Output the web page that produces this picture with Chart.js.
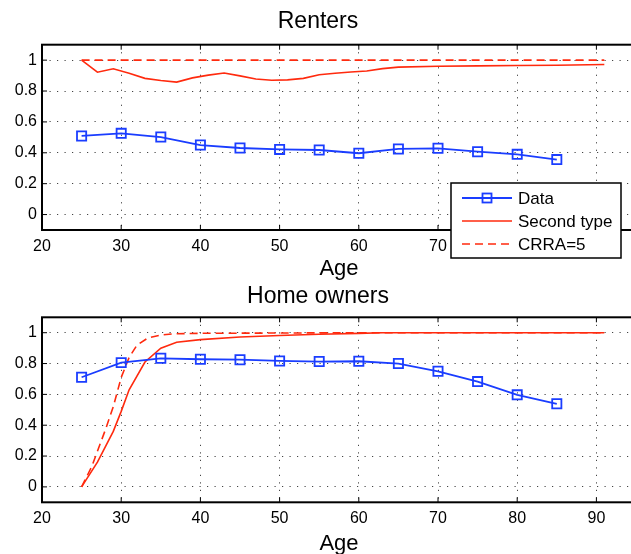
<!DOCTYPE html>
<html>
<head>
<meta charset="utf-8">
<script src="https://cdn.jsdelivr.net/npm/chart.js@4.4.1/dist/chart.umd.min.js"></script>
<style>
  html, body { margin: 0; padding: 0; background: #fff; overflow: hidden; width: 631px; height: 554px; }
  .panel { position: absolute; left: 0; }
</style>
</head>
<body>
<div class="panel" style="top:0"><canvas id="renters" width="660" height="290"></canvas></div>
<div class="panel" style="top:277px"><canvas id="owners" width="660" height="290"></canvas></div>
<script>
// axis ticks
const xTicks = [20, 30, 40, 50, 60, 70, 80, 90];
const yTicks = [0, 0.2, 0.4, 0.6, 0.8, 1];

// renters
const dataAges = [25, 30, 35, 40, 45, 50, 55, 60, 65, 70, 75, 80, 85];
const renterData = [0.509, 0.526, 0.502, 0.450, 0.431, 0.422, 0.418, 0.397, 0.425, 0.429, 0.407, 0.390, 0.356];
const renterSecondAges = [25, 27, 29, 31, 33, 35, 37, 39, 41, 43, 45, 47, 49, 51, 53, 55, 57, 59, 61, 63, 65, 70, 75, 80, 85, 91];
const renterSecond = [1.0, 0.922, 0.944, 0.915, 0.882, 0.868, 0.858, 0.885, 0.903, 0.917, 0.898, 0.878, 0.870, 0.872, 0.882, 0.905, 0.915, 0.923, 0.930, 0.945, 0.955, 0.960, 0.963, 0.965, 0.967, 0.972];
const renterCrraAges = [25, 91];
const renterCrra = [1.0, 1.0];

// home owners
const ownerData = [0.711, 0.806, 0.834, 0.828, 0.825, 0.817, 0.813, 0.815, 0.800, 0.750, 0.683, 0.597, 0.539];
const ownerSecondAges = [25, 27, 29, 30, 31, 33, 35, 37, 40, 45, 50, 55, 60, 63, 70, 80, 91];
const ownerSecond = [0.0, 0.160, 0.360, 0.490, 0.630, 0.810, 0.900, 0.938, 0.955, 0.972, 0.982, 0.990, 0.996, 1.0, 1.0, 1.0, 1.0];
const ownerCrraAges = [25, 26.3, 28, 29, 30, 31, 32, 33.4, 35, 36.6, 40, 50, 60, 91];
const ownerCrra = [0.0, 0.134, 0.370, 0.520, 0.710, 0.840, 0.920, 0.967, 0.985, 0.993, 0.996, 0.998, 1.0, 1.0];

const BLUE = "#1a3dff";
const RED = "#ff2a0e";
const FONT = "'Liberation Sans', Arial, Helvetica, sans-serif";

function pts(xs, ys) {
  return xs.map((x, i) => ({ x: x, y: ys[i] }));
}

// box around the plot area plus inward tick marks
const frame = {
  id: "frame",
  afterDatasetsDraw(chart) {
    const { ctx, chartArea: a, scales } = chart;
    ctx.save();
    ctx.strokeStyle = "#000";
    ctx.lineWidth = 1;
    ctx.beginPath();
    xTicks.forEach(v => {
      const px = scales.x.getPixelForValue(v);
      ctx.moveTo(px, a.bottom); ctx.lineTo(px, a.bottom - 5);
      ctx.moveTo(px, a.top); ctx.lineTo(px, a.top + 5);
    });
    yTicks.forEach(v => {
      const py = scales.y.getPixelForValue(v);
      ctx.moveTo(a.left, py); ctx.lineTo(a.left + 5, py);
    });
    ctx.stroke();
    ctx.lineWidth = 2;
    ctx.strokeRect(a.left, a.top, a.right - a.left, a.bottom - a.top);
    ctx.restore();
  }
};

// matlab style legend box inside the axes
const boxLegend = {
  id: "boxLegend",
  afterDraw(chart, args, opts) {
    if (!opts.show) return;
    const ctx = chart.ctx;
    const x = 451, y = 183, w = 170, h = 75;
    ctx.save();
    ctx.fillStyle = "#fff";
    ctx.fillRect(x, y, w, h);
    ctx.strokeStyle = "#000";
    ctx.lineWidth = 1.5;
    ctx.strokeRect(x, y, w, h);
    ctx.font = "17px " + FONT;
    ctx.textBaseline = "middle";
    chart.data.datasets.forEach((ds, i) => {
      const cy = y + 15 + i * 23;
      ctx.strokeStyle = ds.borderColor;
      ctx.lineWidth = ds.borderWidth;
      ctx.setLineDash(ds.borderDash || []);
      ctx.beginPath();
      ctx.moveTo(x + 11, cy);
      ctx.lineTo(x + 61, cy);
      ctx.stroke();
      ctx.setLineDash([]);
      if (ds.pointRadius > 0) {
        ctx.lineWidth = 1.8;
        ctx.strokeRect(x + 31.5, cy - 4.5, 9, 9);
      }
      ctx.fillStyle = "#000";
      ctx.fillText(ds.label, x + 67, cy + 1);
    });
    ctx.restore();
  }
};

function makeChart(id, title, series, titlePad, xHeight, agePad, showLegend) {
  const ctx = document.getElementById(id).getContext("2d");
  return new Chart(ctx, {
    type: "line",
    data: {
      datasets: [
        {
          label: "Data",
          data: pts(dataAges, series.data),
          borderColor: BLUE,
          backgroundColor: "rgba(0,0,0,0)",
          borderWidth: 1.8,
          pointStyle: "rect",
          pointRadius: 6.5,
          pointBorderWidth: 1.8,
          pointBorderColor: BLUE,
          pointBackgroundColor: "rgba(0,0,0,0)",
          tension: 0
        },
        {
          label: "Second type",
          data: pts(series.secondAges, series.second),
          borderColor: RED,
          borderWidth: 1.6,
          pointRadius: 0,
          tension: 0
        },
        {
          label: "CRRA=5",
          data: pts(series.crraAges, series.crra),
          borderColor: RED,
          borderWidth: 1.6,
          borderDash: [8, 5],
          pointRadius: 0,
          tension: 0
        }
      ]
    },
    options: {
      responsive: false,
      animation: false,
      layout: { padding: { left: 0, right: 24, top: 0, bottom: 0 } },
      plugins: {
        legend: { display: false },
        tooltip: { enabled: false },
        title: {
          display: true,
          text: title,
          color: "#000",
          font: { family: FONT, size: 23, weight: "normal" },
          padding: titlePad
        },
        boxLegend: { show: showLegend }
      },
      scales: {
        x: {
          type: "linear",
          min: 20,
          max: 95,
          afterBuildTicks: axis => { axis.ticks = xTicks.map(v => ({ value: v })); },
          afterFit: scale => { scale.height = xHeight; },
          border: { display: false, dash: [1.2, 6.3] },
          grid: { color: "#444", lineWidth: 1, drawTicks: false },
          ticks: { color: "#000", padding: 6.5, font: { family: FONT, size: 16 }, maxRotation: 0, callback: v => String(v) },
          title: { display: true, text: "Age", color: "#000", padding: { top: 0, bottom: agePad }, font: { family: FONT, size: 22 } }
        },
        y: {
          min: -0.1,
          max: 1.1,
          afterBuildTicks: axis => { axis.ticks = yTicks.map(v => ({ value: v })); },
          afterFit: scale => { scale.width = 42; },
          border: { display: false, dash: [1.2, 6.3] },
          grid: { color: "#444", lineWidth: 1, drawTicks: false },
          ticks: { color: "#000", padding: 5, font: { family: FONT, size: 16 }, callback: v => String(v) }
        }
      }
    },
    plugins: [frame, boxLegend]
  });
}

makeChart("renters", "Renters",
  { data: renterData, secondAges: renterSecondAges, second: renterSecond, crraAges: renterCrraAges, crra: renterCrra },
  { top: 8.2, bottom: 8.9 }, 60, 7.8, true);

makeChart("owners", "Home owners",
  { data: ownerData, secondAges: ownerSecondAges, second: ownerSecond, crraAges: ownerCrraAges, crra: ownerCrra },
  { top: 5.7, bottom: 7 }, 64.7, 9.8, false);
</script>
</body>
</html>
